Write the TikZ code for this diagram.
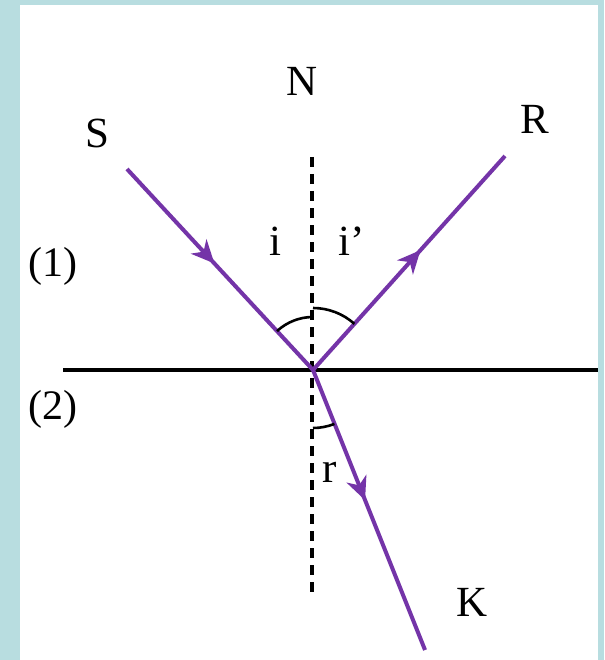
\documentclass[tikz,border=0pt]{standalone}
\usepackage{fontspec}
\setmainfont{Liberation Serif}
\usetikzlibrary{arrows.meta,decorations.markings}
\definecolor{frame}{HTML}{B8DDE0}
\definecolor{ray}{HTML}{7434A8}
\begin{document}
\begin{tikzpicture}[x=1pt,y=-1pt,
  raystyle/.style={draw=ray,line width=4pt},
  arrowat/.style={postaction={decorate},decoration={markings,
    mark=at position #1 with {\arrow{Stealth[length=23pt,width=21pt,inset=7pt,fill=ray,color=ray]}}}},
  lbl/.style={font=\fontsize{43}{48}\selectfont,inner sep=0pt},
  medium/.style={font=\fontsize{42}{46}\selectfont,inner sep=0pt},
  normalline/.style={draw=black,line width=3.4pt,dash pattern=on 10pt off 7pt},
  anglearc/.style={draw=black,line width=2.6pt}]
\useasboundingbox (0,0) rectangle (604,660);
\fill[frame] (0,0) rectangle (604,660);
\fill[white] (20,5) rectangle (598,660);

\coordinate (O) at (313,370);
\coordinate (Sstart) at (127,169);
\coordinate (Rend) at (505,156);
\coordinate (Kend) at (425,650);
\coordinate (Ntop) at (312,157);
\coordinate (Nbot) at (312,595);
\coordinate (Lstart) at (63,370);
\coordinate (Lend) at (598,370);

% interface and normal
\draw[black,line width=3.2pt] (Lstart) -- (Lend);
\draw[normalline] (Ntop) -- (Nbot);

% rays
\draw[raystyle,arrowat=0.47] (Sstart) -- (O);
\draw[raystyle,arrowat=0.56] (O) -- (Rend);
\draw[raystyle,arrowat=0.465] (O) -- (Kend);

% angle arcs
\draw[anglearc] (O) ++(0,-53) arc[start angle=-90,end angle=-132.8,radius=53];
\draw[anglearc] (O) ++(0,-62) arc[start angle=-90,end angle=-48.1,radius=62];
\draw[anglearc] (O) ++(0,58) arc[start angle=90,end angle=68.3,radius=58];

% labels
\node[lbl] (N) at (302,81) {N};
\node[lbl] (S) at (97,133) {S};
\node[lbl] (R) at (535,119) {R};
\node[lbl] (K) at (472,602) {K};
\node[lbl] (i) at (275,241) {i};
\node[lbl] (ip) at (352,241) {i’};
\node[lbl] (r) at (330,472) {r};
\node[medium] (one) at (53,266) {(1)};
\node[medium] (two) at (53,409) {(2)};
\end{tikzpicture}
\end{document}
